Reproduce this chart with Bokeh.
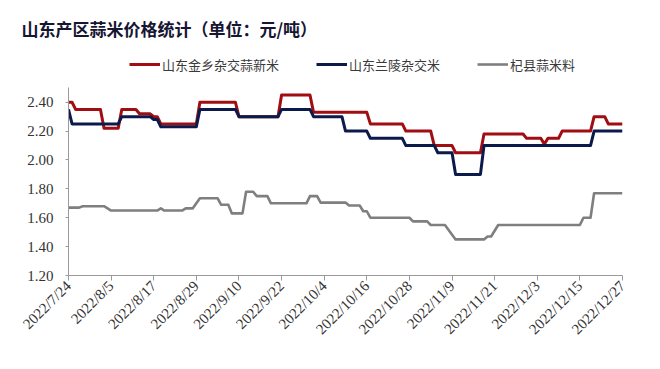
import pandas as pd
from math import pi
from bokeh.plotting import figure
from bokeh.models import (Range1d, FixedTicker, Legend, LegendItem, Title, ColumnDataSource,
                          NumeralTickFormatter)
from bokeh.embed import file_html
from bokeh.resources import INLINE

title_text = "山东产区蒜米价格统计（单位：元/吨）"
series_names = ["山东金乡杂交蒜新米", "山东兰陵杂交米", "杞县蒜米料"]
series_colors = ["#a00d12", "#0b1a4a", "#7f7f7f"]

jinxiang_dates = ["2022-07-24", "2022-07-25", "2022-07-26", "2022-08-02", "2022-08-03", "2022-08-07",
                  "2022-08-08", "2022-08-12", "2022-08-13", "2022-08-16", "2022-08-17", "2022-08-18",
                  "2022-08-19", "2022-08-29", "2022-08-30", "2022-09-09", "2022-09-10", "2022-09-21",
                  "2022-09-22", "2022-09-30", "2022-10-01", "2022-10-16", "2022-10-17", "2022-10-26",
                  "2022-10-27", "2022-11-03", "2022-11-04", "2022-11-09", "2022-11-10", "2022-11-17",
                  "2022-11-18", "2022-11-29", "2022-11-30", "2022-12-04", "2022-12-05", "2022-12-06",
                  "2022-12-09", "2022-12-10", "2022-12-18", "2022-12-19", "2022-12-22", "2022-12-23",
                  "2022-12-27"]
jinxiang_values = [2.40, 2.40, 2.35, 2.35, 2.22, 2.22, 2.35, 2.35, 2.32, 2.32, 2.30, 2.30, 2.25, 2.25,
                   2.40, 2.40, 2.30, 2.30, 2.45, 2.45, 2.33, 2.33, 2.25, 2.25, 2.20, 2.20, 2.10, 2.10,
                   2.05, 2.05, 2.18, 2.18, 2.15, 2.15, 2.11, 2.15, 2.15, 2.20, 2.20, 2.30, 2.30, 2.25,
                   2.25]

lanling_dates = ["2022-07-24", "2022-07-25", "2022-08-07", "2022-08-08", "2022-08-16", "2022-08-17",
                 "2022-08-18", "2022-08-19", "2022-08-29", "2022-08-30", "2022-09-09", "2022-09-10",
                 "2022-09-21", "2022-09-22", "2022-09-30", "2022-10-01", "2022-10-09", "2022-10-10",
                 "2022-10-16", "2022-10-17", "2022-10-26", "2022-10-27", "2022-11-04", "2022-11-05",
                 "2022-11-09", "2022-11-10", "2022-11-17", "2022-11-18", "2022-12-18", "2022-12-19",
                 "2022-12-27"]
lanling_values = [2.35, 2.25, 2.25, 2.30, 2.30, 2.28, 2.28, 2.23, 2.23, 2.35, 2.35, 2.30, 2.30, 2.35,
                  2.35, 2.30, 2.30, 2.20, 2.20, 2.15, 2.15, 2.10, 2.10, 2.05, 2.05, 1.90, 1.90, 2.10,
                  2.10, 2.20, 2.20]

qixian_dates = ["2022-07-24", "2022-07-27", "2022-07-28", "2022-08-03", "2022-08-05", "2022-08-18",
                "2022-08-19", "2022-08-20", "2022-08-25", "2022-08-26", "2022-08-28", "2022-08-30",
                "2022-09-04", "2022-09-05", "2022-09-07", "2022-09-08", "2022-09-11", "2022-09-12",
                "2022-09-14", "2022-09-15", "2022-09-18", "2022-09-19", "2022-09-29", "2022-09-30",
                "2022-10-02", "2022-10-03", "2022-10-10", "2022-10-11", "2022-10-14", "2022-10-15",
                "2022-10-16", "2022-10-17", "2022-10-28", "2022-10-29", "2022-11-02", "2022-11-03",
                "2022-11-07", "2022-11-10", "2022-11-18", "2022-11-19", "2022-11-20", "2022-11-22",
                "2022-12-15", "2022-12-16", "2022-12-18", "2022-12-19", "2022-12-27"]
qixian_values = [1.67, 1.67, 1.68, 1.68, 1.65, 1.65, 1.665, 1.65, 1.65, 1.665, 1.665, 1.735, 1.735,
                 1.69, 1.69, 1.63, 1.63, 1.78, 1.78, 1.75, 1.75, 1.70, 1.70, 1.75, 1.75, 1.705, 1.705,
                 1.685, 1.685, 1.645, 1.645, 1.60, 1.60, 1.575, 1.575, 1.55, 1.55, 1.45, 1.45, 1.47,
                 1.47, 1.55, 1.55, 1.60, 1.60, 1.77, 1.77]

tick_dates = ["2022-07-24", "2022-08-05", "2022-08-17", "2022-08-29", "2022-09-10", "2022-09-22",
              "2022-10-04", "2022-10-16", "2022-10-28", "2022-11-09", "2022-11-21", "2022-12-03",
              "2022-12-15", "2022-12-27"]
tick_labels = ["2022/7/24", "2022/8/5", "2022/8/17", "2022/8/29", "2022/9/10", "2022/9/22",
               "2022/10/4", "2022/10/16", "2022/10/28", "2022/11/9", "2022/11/21", "2022/12/3",
               "2022/12/15", "2022/12/27"]
y_ticks = [1.20, 1.40, 1.60, 1.80, 2.00, 2.20, 2.40]
y_axis_min, y_axis_max = 1.20, 2.50

# layout constants (pixels)
FRAME_TOP = 50          # frame extends above the axis top so the legend fits inside it
AXIS_TOP = 87.3         # where the value axis ends (2.50)
FRAME_BOTTOM = 275
FIG_H = 353
px_per_unit = (FRAME_BOTTOM - AXIS_TOP) / (y_axis_max - y_axis_min)
y_view_top = y_axis_max + (AXIS_TOP - FRAME_TOP) / px_per_unit


def to_ms(s):
    return (pd.Timestamp(s) - pd.Timestamp("1970-01-01")) // pd.Timedelta(milliseconds=1)


tick_ms = [float(to_ms(d)) for d in tick_dates]

p = figure(width=644, height=FIG_H, output_backend="svg", toolbar_location=None,
           x_axis_type="datetime",
           x_range=Range1d(tick_ms[0], tick_ms[-1]),
           y_range=Range1d(y_axis_min, y_view_top),
           min_border_left=68, min_border_right=22, min_border_top=FRAME_TOP,
           min_border_bottom=FIG_H - FRAME_BOTTOM)
p.outline_line_color = None
p.xgrid.visible = False
p.ygrid.visible = False

renderers = []
for dates, vals, color, lw in [(jinxiang_dates, jinxiang_values, series_colors[0], 3),
                               (lanling_dates, lanling_values, series_colors[1], 3),
                               (qixian_dates, qixian_values, series_colors[2], 2.6)]:
    src = ColumnDataSource(dict(x=pd.to_datetime(dates), y=vals))
    r = p.line("x", "y", source=src, line_color=color, line_width=lw, line_join="round")
    renderers.append(r)

# axes
p.xaxis.ticker = FixedTicker(ticks=tick_ms)
p.xaxis.major_label_overrides = {t: lab for t, lab in zip(tick_ms, tick_labels)}
p.xaxis.major_label_orientation = pi / 4
p.xaxis.minor_tick_line_color = None
p.yaxis.ticker = FixedTicker(ticks=y_ticks)
p.yaxis.formatter = NumeralTickFormatter(format="0.00")
p.yaxis.minor_tick_line_color = None
p.yaxis.bounds = (y_axis_min, y_axis_max)
for ax in (p.xaxis, p.yaxis):
    ax.axis_line_color = "#9a9a9a"
    ax.major_tick_line_color = "#9a9a9a"
    ax.axis_line_width = 1
    ax.major_tick_in = 0
    ax.major_label_text_font = "Liberation Serif"
    ax.major_label_text_color = "#333333"
p.xaxis.major_label_text_font_size = "15px"
p.yaxis.major_label_text_font_size = "15px"
p.xaxis.major_tick_out = 5
p.yaxis.major_tick_out = 3
p.yaxis.major_label_standoff = 12
p.xaxis.major_label_standoff = 3

legend = Legend(items=[LegendItem(label=n, renderers=[r]) for n, r in zip(series_names, renderers)],
                orientation="horizontal", location=(61, FRAME_BOTTOM - 73.5),
                label_text_font="Noto Sans CJK SC", label_text_font_size="13px",
                label_text_color="#3a3a3a", glyph_width=31, glyph_height=14, label_standoff=2,
                spacing=37, padding=0, margin=0, border_line_color=None, background_fill_alpha=0)
p.add_layout(legend, "center")

title = Title(text=title_text, align="left", offset=-47, text_font="Noto Sans CJK SC",
              text_font_size="17px", text_font_style="bold", text_color="#161633",
              standoff=20)
p.add_layout(title, "above")

open("out.html", "w").write(file_html(p, INLINE))
